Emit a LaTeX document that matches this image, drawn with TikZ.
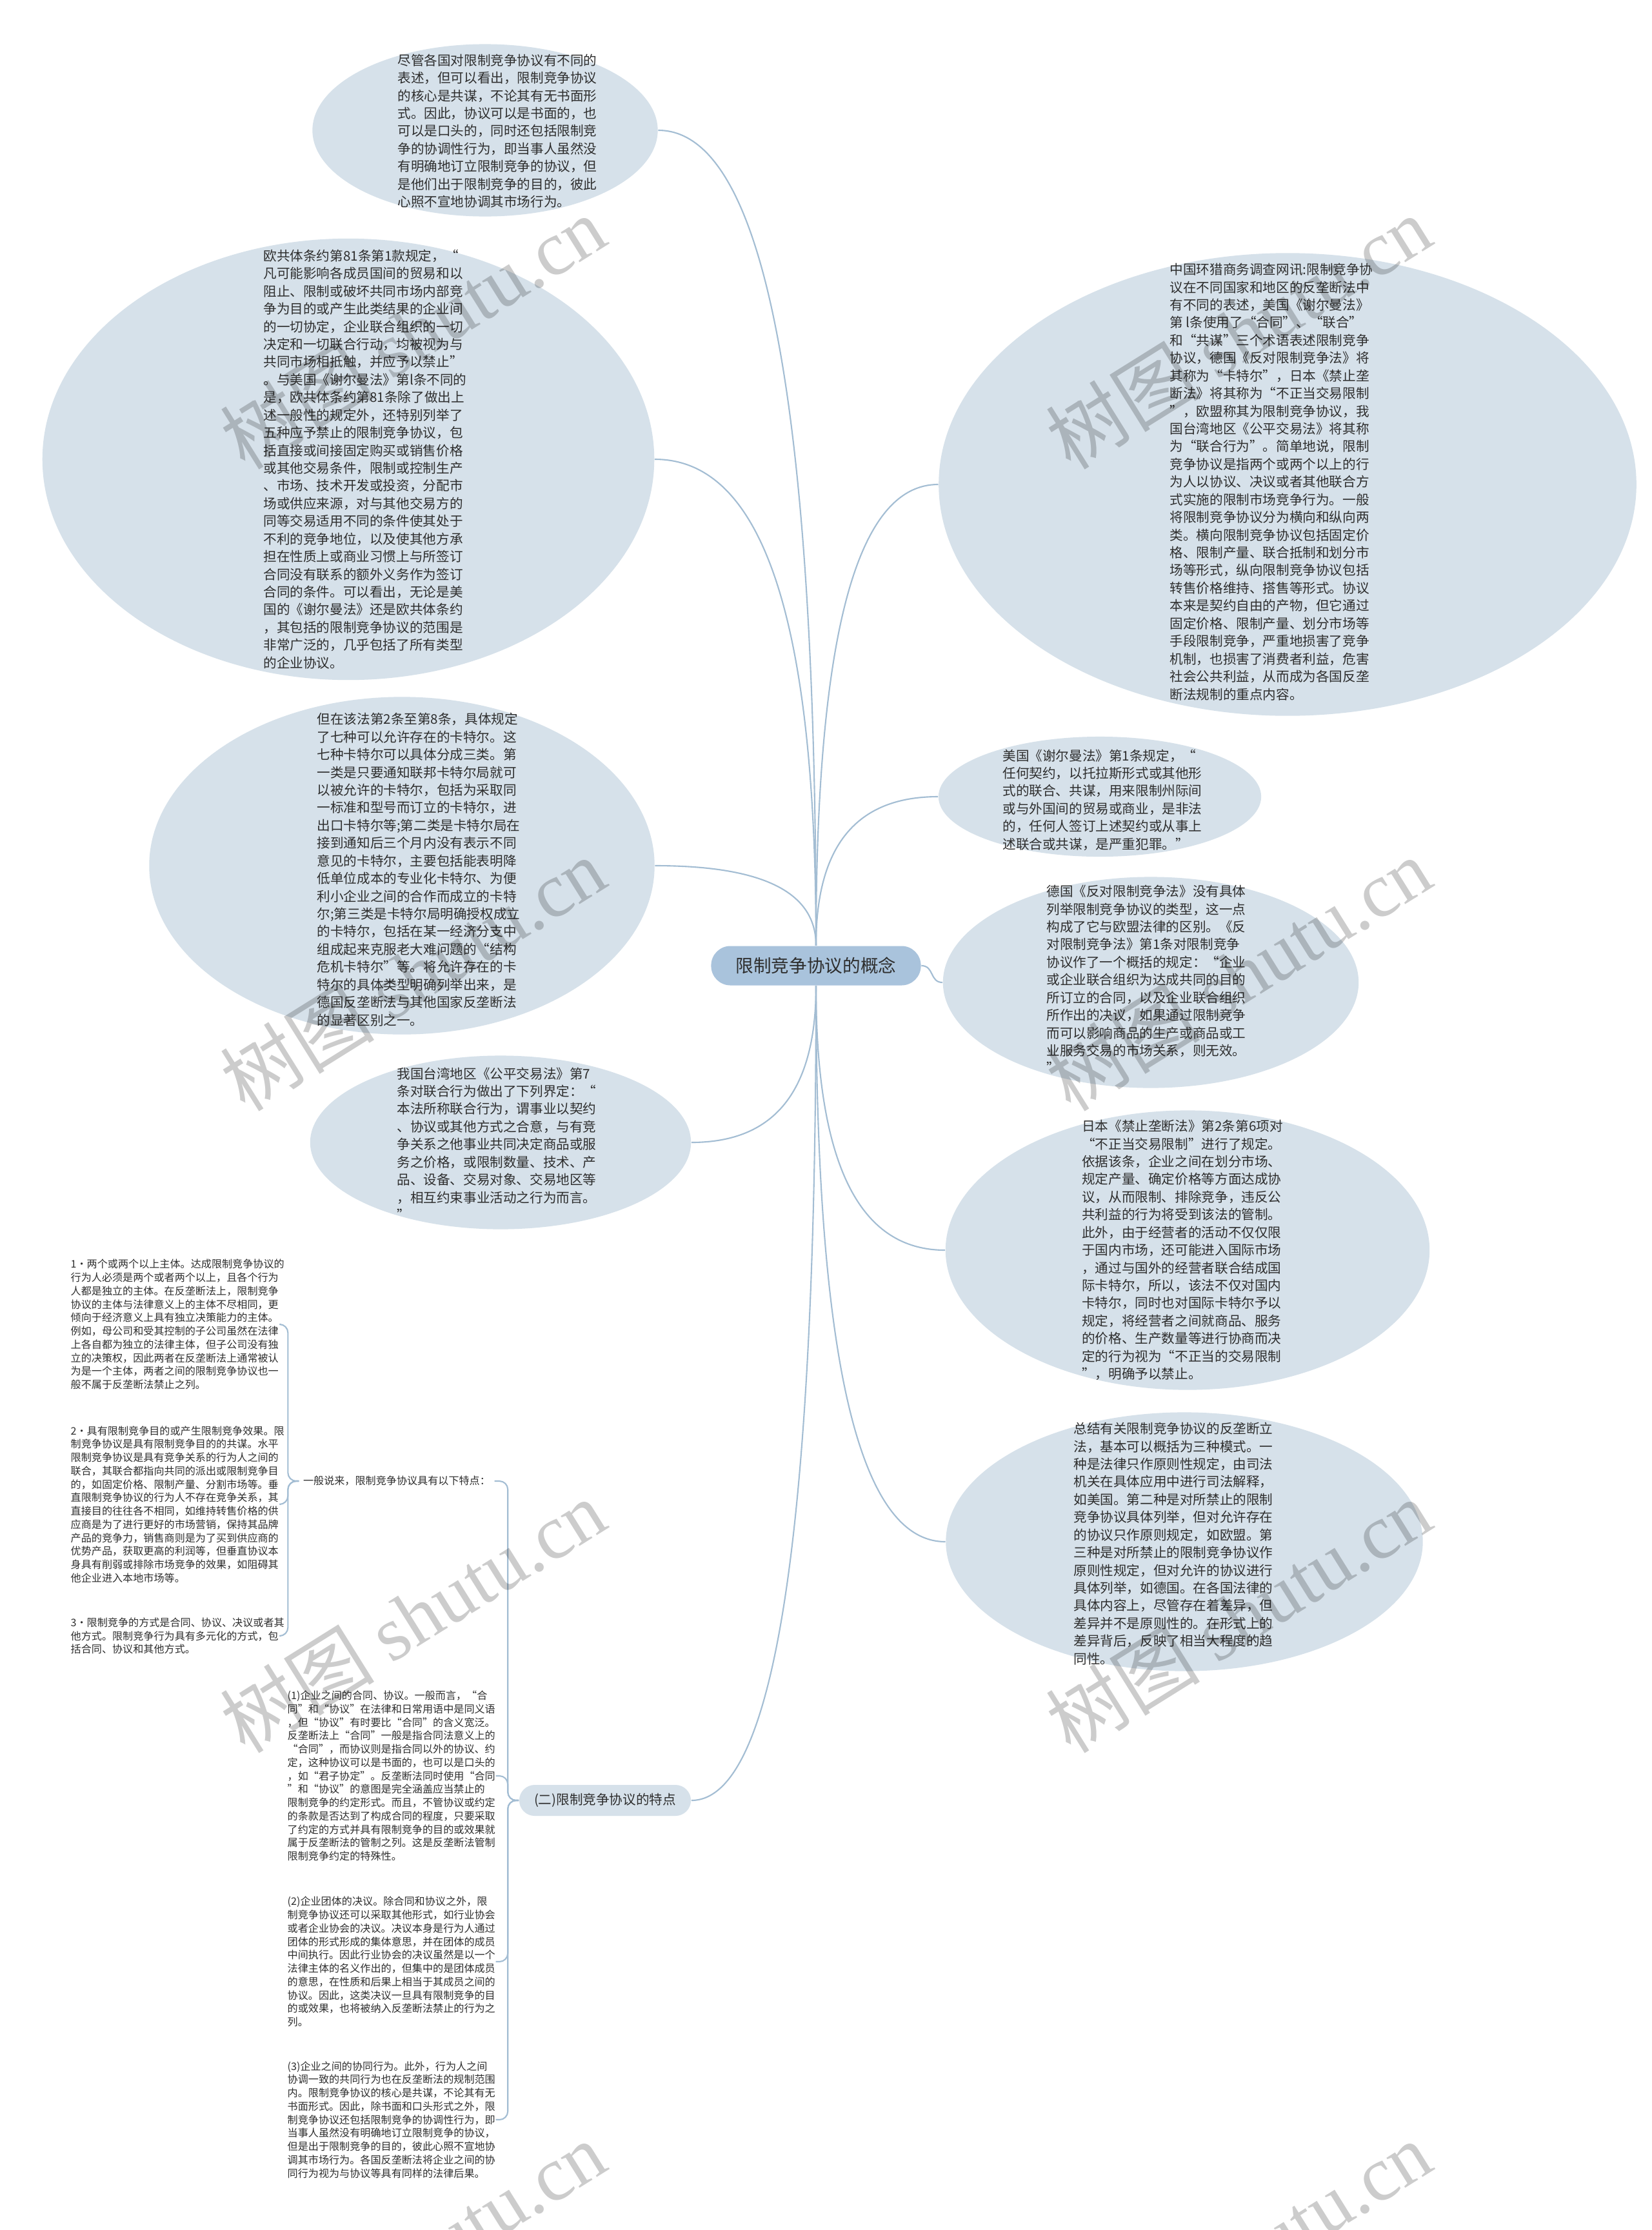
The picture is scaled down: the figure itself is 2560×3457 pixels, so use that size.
\documentclass[tikz,border=0pt]{standalone}
\usepackage{fontspec}
\setmainfont{Noto Sans CJK SC}
\newfontfamily\wmfont{Liberation Serif}
\usetikzlibrary{shapes.geometric,calc}
\definecolor{bubc}{HTML}{D6E1EA}
\definecolor{rootc}{HTML}{A9C3DC}
\definecolor{linec}{HTML}{A3BDD3}
\definecolor{txtc}{HTML}{2E2E2E}
\newcommand{\bigtxt}{\fontsize{5.86}{7.8}\selectfont}
\newcommand{\smalltxt}{\fontsize{4.58}{5.9}\selectfont}

\begin{document}
\begin{tikzpicture}[x=0.01cm,y=-0.01cm,
  bubble/.style={ellipse,fill=bubc,inner sep=0},
  btext/.style={align=left,inner sep=0,text=txtc,font=\bigtxt},
  stext/.style={align=left,inner sep=0,text=txtc,font=\smalltxt,anchor=west,text width=3.25cm},
  conn/.style={draw=linec,line width=0.6pt},
  wmark/.style={text=black,text opacity=0.2,rotate=32,font=\fontsize{34}{34}\selectfont}]
  \useasboundingbox (0,0) rectangle (2560,3457);
  \fill[white] (0,0) rectangle (2560,3457);

  % centre
  \node[fill=rootc,rounded corners=0.3cm,minimum width=3.25cm,minimum height=0.61cm,inner sep=0,text=txtc,font=\fontsize{7.85}{9}\selectfont] (root) at (1265,1497) {限制竞争协议的概念};

  % left side
  \node[bubble,minimum width=5.35cm,minimum height=2.67cm] (n1) at (752,202) {};
  \node[btext] (n1t) at (771,203) {尽管各国对限制竞争协议有不同的\\表述，但可以看出，限制竞争协议\\的核心是共谋，不论其有无书面形\\式。因此，协议可以是书面的，也\\可以是口头的，同时还包括限制竞\\争的协调性行为，即当事人虽然没\\有明确地订立限制竞争的协议，但\\是他们出于限制竞争的目的，彼此\\心照不宣地协调其市场行为。};

  \node[bubble,minimum width=9.48cm,minimum height=6.84cm] (n2) at (540,712) {};
  \node[btext] (n2t) at (566,712) {欧共体条约第81条第1款规定，“\\凡可能影响各成员国间的贸易和以\\阻止、限制或破坏共同市场内部竞\\争为目的或产生此类结果的企业间\\的一切协定，企业联合组织的一切\\决定和一切联合行动，均被视为与\\共同市场相抵触，并应予以禁止”\\。与美国《谢尔曼法》第l条不同的\\是，欧共体条约第81条除了做出上\\述一般性的规定外，还特别列举了\\五种应予禁止的限制竞争协议，包\\括直接或间接固定购买或销售价格\\或其他交易条件，限制或控制生产\\、市场、技术开发或投资，分配市\\场或供应来源，对与其他交易方的\\同等交易适用不同的条件使其处于\\不利的竞争地位，以及使其他方承\\担在性质上或商业习惯上与所签订\\合同没有联系的额外义务作为签订\\合同的条件。可以看出，无论是美\\国的《谢尔曼法》还是欧共体条约\\，其包括的限制竞争协议的范围是\\非常广泛的，几乎包括了所有类型\\的企业协议。};

  \node[bubble,minimum width=7.83cm,minimum height=5.23cm] (n4) at (623,1342) {};
  \node[btext] (n4t) at (649,1348) {但在该法第2条至第8条，具体规定\\了七种可以允许存在的卡特尔。这\\七种卡特尔可以具体分成三类。第\\一类是只要通知联邦卡特尔局就可\\以被允许的卡特尔，包括为采取同\\一标准和型号而订立的卡特尔，进\\出口卡特尔等;第二类是卡特尔局在\\接到通知后三个月内没有表示不同\\意见的卡特尔，主要包括能表明降\\低单位成本的专业化卡特尔、为便\\利小企业之间的合作而成立的卡特\\尔;第三类是卡特尔局明确授权成立\\的卡特尔，包括在某一经济分支中\\组成起来克服老大难问题的“结构\\危机卡特尔”等。将允许存在的卡\\特尔的具体类型明确列举出来，是\\德国反垄断法与其他国家反垄断法\\的显著区别之一。};

  \node[bubble,minimum width=5.90cm,minimum height=2.69cm] (n7) at (776,1771) {};
  \node[btext] (n7t) at (770,1773) {我国台湾地区《公平交易法》第7\\条对联合行为做出了下列界定：“\\本法所称联合行为，谓事业以契约\\、协议或其他方式之合意，与有竞\\争关系之他事业共同决定商品或服\\务之价格，或限制数量、技术、产\\品、设备、交易对象、交易地区等\\，相互约束事业活动之行为而言。\\”};

  \node[fill=bubc,rounded corners=0.24cm,minimum width=2.66cm,minimum height=0.48cm,inner sep=0,text=txtc,font=\bigtxt] (er) at (938,2791) {(二)限制竞争协议的特点};
  \node[text=txtc,font=\smalltxt,inner ysep=0,inner xsep=0.06cm] (g) at (615,2296) {一般说来，限制竞争协议具有以下特点：};

  \node[stext] (s1) at (109,2053) {1·两个或两个以上主体。达成限制竞争协议的\\行为人必须是两个或者两个以上，且各个行为\\人都是独立的主体。在反垄断法上，限制竞争\\协议的主体与法律意义上的主体不尽相同，更\\倾向于经济意义上具有独立决策能力的主体。\\例如，母公司和受其控制的子公司虽然在法律\\上各自都为独立的法律主体，但子公司没有独\\立的决策权，因此两者在反垄断法上通常被认\\为是一个主体，两者之间的限制竞争协议也一\\般不属于反垄断法禁止之列。};
  \node[stext] (s2) at (109,2332) {2·具有限制竞争目的或产生限制竞争效果。限\\制竞争协议是具有限制竞争目的的共谋。水平\\限制竞争协议是具有竞争关系的行为人之间的\\联合，其联合都指向共同的派出或限制竞争目\\的，如固定价格、限制产量、分割市场等。垂\\直限制竞争协议的行为人不存在竞争关系，其\\直接目的往往各不相同，如维持转售价格的供\\应商是为了进行更好的市场营销，保持其品牌\\产品的竞争力，销售商则是为了买到供应商的\\优势产品，获取更高的利润等，但垂直协议本\\身具有削弱或排除市场竞争的效果，如阻碍其\\他企业进入本地市场等。};
  \node[stext] (s3) at (109,2536) {3·限制竞争的方式是合同、协议、决议或者其\\他方式。限制竞争行为具有多元化的方式，包\\括合同、协议和其他方式。};

  \node[stext,text width=3.22cm] (p1) at (445,2753) {(1)企业之间的合同、协议。一般而言，“合\\同”和“协议”在法律和日常用语中是同义语\\，但“协议”有时要比“合同”的含义宽泛。\\反垄断法上“合同”一般是指合同法意义上的\\“合同”，而协议则是指合同以外的协议、约\\定，这种协议可以是书面的，也可以是口头的\\，如“君子协定”。反垄断法同时使用“合同\\”和“协议”的意图是完全涵盖应当禁止的\\限制竞争的约定形式。而且，不管协议或约定\\的条款是否达到了构成合同的程度，只要采取\\了约定的方式并具有限制竞争的目的或效果就\\属于反垄断法的管制之列。这是反垄断法管制\\限制竞争约定的特殊性。};
  \node[stext,text width=3.22cm] (p2) at (445,3041) {(2)企业团体的决议。除合同和协议之外，限\\制竞争协议还可以采取其他形式，如行业协会\\或者企业协会的决议。决议本身是行为人通过\\团体的形式形成的集体意思，并在团体的成员\\中间执行。因此行业协会的决议虽然是以一个\\法律主体的名义作出的，但集中的是团体成员\\的意思，在性质和后果上相当于其成员之间的\\协议。因此，这类决议一旦具有限制竞争的目\\的或效果，也将被纳入反垄断法禁止的行为之\\列。};
  \node[stext,text width=3.22cm] (p3) at (445,3286) {(3)企业之间的协同行为。此外，行为人之间\\协调一致的共同行为也在反垄断法的规制范围\\内。限制竞争协议的核心是共谋，不论其有无\\书面形式。因此，除书面和口头形式之外，限\\制竞争协议还包括限制竞争的协调性行为，即\\当事人虽然没有明确地订立限制竞争的协议，\\但是出于限制竞争的目的，彼此心照不宣地协\\调其市场行为。各国反垄断法将企业之间的协\\同行为视为与协议等具有同样的法律后果。};

  % right side
  \node[bubble,minimum width=10.81cm,minimum height=7.17cm] (n3) at (1996,751) {};
  \node[btext] (n3t) at (1971,747) {中国环猎商务调查网讯:限制竞争协\\议在不同国家和地区的反垄断法中\\有不同的表述，美国《谢尔曼法》\\第 l条使用了“合同”、“联合”\\和“共谋”三个术语表述限制竞争\\协议，德国《反对限制竞争法》将\\其称为“卡特尔”，日本《禁止垄\\断法》将其称为“不正当交易限制\\”，欧盟称其为限制竞争协议，我\\国台湾地区《公平交易法》将其称\\为“联合行为”。简单地说，限制\\竞争协议是指两个或两个以上的行\\为人以协议、决议或者其他联合方\\式实施的限制市场竞争行为。一般\\将限制竞争协议分为横向和纵向两\\类。横向限制竞争协议包括固定价\\格、限制产量、联合抵制和划分市\\场等形式，纵向限制竞争协议包括\\转售价格维持、搭售等形式。协议\\本来是契约自由的产物，但它通过\\固定价格、限制产量、划分市场等\\手段限制竞争，严重地损害了竞争\\机制，也损害了消费者利益，危害\\社会公共利益，从而成为各国反垄\\断法规制的重点内容。};

  \node[bubble,minimum width=5.00cm,minimum height=1.86cm] (n5) at (1705,1235) {};
  \node[btext] (n5t) at (1709,1240) {美国《谢尔曼法》第1条规定，“\\任何契约，以托拉斯形式或其他形\\式的联合、共谋，用来限制州际间\\或与外国间的贸易或商业，是非法\\的，任何人签订上述契约或从事上\\述联合或共谋，是严重犯罪。”};

  \node[bubble,minimum width=6.44cm,minimum height=3.27cm] (n6) at (1784,1523) {};
  \node[btext] (n6t) at (1777,1518) {德国《反对限制竞争法》没有具体\\列举限制竞争协议的类型，这一点\\构成了它与欧盟法律的区别。《反\\对限制竞争法》第1条对限制竞争\\协议作了一个概括的规定：“企业\\或企业联合组织为达成共同的目的\\所订立的合同，以及企业联合组织\\所作出的决议，如果通过限制竞争\\而可以影响商品的生产或商品或工\\业服务交易的市场关系，则无效。\\”};

  \node[bubble,minimum width=7.50cm,minimum height=4.33cm] (n8) at (1841,1938) {};
  \node[btext] (n8t) at (1833,1938) {日本《禁止垄断法》第2条第6项对\\“不正当交易限制”进行了规定。\\依据该条，企业之间在划分市场、\\规定产量、确定价格等方面达成协\\议，从而限制、排除竞争，违反公\\共利益的行为将受到该法的管制。\\此外，由于经营者的活动不仅仅限\\于国内市场，还可能进入国际市场\\，通过与国外的经营者联合结成国\\际卡特尔，所以，该法不仅对国内\\卡特尔，同时也对国际卡特尔予以\\规定，将经营者之间就商品、服务\\的价格、生产数量等进行协商而决\\定的行为视为“不正当的交易限制\\”，明确予以禁止。};

  \node[bubble,minimum width=7.39cm,minimum height=4.01cm] (n9) at (1836,2390) {};
  \node[btext] (n9t) at (1819,2393) {总结有关限制竞争协议的反垄断立\\法，基本可以概括为三种模式。一\\种是法律只作原则性规定，由司法\\机关在具体应用中进行司法解释，\\如美国。第二种是对所禁止的限制\\竞争协议具体列举，但对允许存在\\的协议只作原则规定，如欧盟。第\\三种是对所禁止的限制竞争协议作\\原则性规定，但对允许的协议进行\\具体列举，如德国。在各国法律的\\具体内容上，尽管存在着差异，但\\差异并不是原则性的。在形式上的\\差异背后，反映了相当大程度的趋\\同性。};

  % connectors
  \foreach \n/\a in {n1/east,n2/east,n4/east,n3/west,n5/west}
    \draw[conn] (root.north) .. controls ($(root.north)!.67!(root.north |- \n.\a)$) and ($(\n.\a)!.67!(root.north |- \n.\a)$) .. (\n.\a);
  \foreach \n/\a in {n7/east,er/east,n8/west,n9/west}
    \draw[conn] (root.south) .. controls ($(root.south)!.67!(root.south |- \n.\a)$) and ($(\n.\a)!.67!(root.south |- \n.\a)$) .. (\n.\a);
  \draw[conn] (root.east) .. controls +(20,0) and +(-20,0) .. (n6.west);
  \foreach \c in {g,p1,p2,p3}
    \draw[conn,rounded corners=0.13cm] (er.west) -- ++(-17,0) |- (\c.east);
  \foreach \c in {s1,s2,s3}
    \draw[conn,rounded corners=0.13cm] (g.west) -- ++(-17,0) |- (\c.east);

  % watermark
  \foreach \x in {640,1920}
    \foreach \y in {515,1510,2505,3500}
      \node[wmark] (w\x\y) at (\x,\y) {树图 {\wmfont shutu.cn}};
\end{tikzpicture}
\end{document}
